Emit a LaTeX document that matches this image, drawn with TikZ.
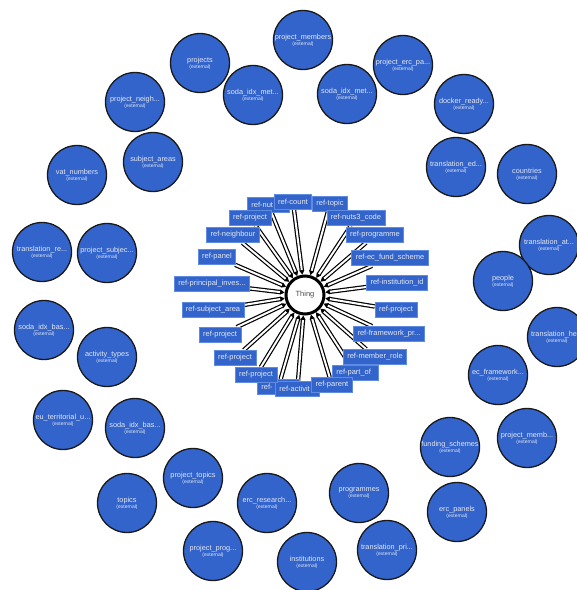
\documentclass[tikz,border=0pt]{standalone}
\usepackage{fontspec}
\setmainfont{Liberation Sans}
\usetikzlibrary{arrows.meta}
\pgfdeclarelayer{background}
\pgfsetlayers{background,main}
\definecolor{vblue}{RGB}{50,100,204}
\definecolor{vedge}{RGB}{95,140,225}
\definecolor{vtext}{RGB}{228,232,240}
\newcommand\extname[1]{#1\\[-2.2pt]{\fontsize{5}{5}\selectfont(external)}}
\tikzset{
  extcls/.style={circle, fill=vblue, draw=black!90, line width=1.3pt, minimum size=59pt, inner sep=0pt,
    align=center, text=vtext, font=\fontsize{7.3}{8}\selectfont},
  prop/.style={rectangle, fill=vblue, draw=vedge, line width=0.7pt, minimum height=15pt, inner xsep=4pt,
    inner ysep=0pt, text=vtext, font=\fontsize{7.5}{8}\selectfont},
  propw/.style={prop, anchor=west, text width=#1, align=left},
  thingnode/.style={circle, fill=white, draw=black, line width=3pt, minimum size=38pt, inner sep=0pt,
    text=black!70, font=\fontsize{7.5}{8}\selectfont},
  link/.style={draw=black, line width=1.2pt, double=white, double distance=2pt,
    -{Triangle[length=4.5pt,width=5pt,fill=black]}},
}
\begin{document}
\begin{tikzpicture}[x=1pt,y=-1pt]
\useasboundingbox (0,0) rectangle (577,590);
% central class
\node[thingnode] (thing) at (305,295) {Thing};
% property labels (drawn bottom to top)
\node[propw=34pt] (pnut) at (247,205) {ref-nut};
\node[prop] (pcount) at (293,202) {ref-count};
\node[prop] (ptopic) at (330,204) {ref-topic};
\node[prop] (pnuts3) at (356,218) {ref-nuts3\_code};
\node[prop] (pprog) at (375,235) {ref-programme};
\node[prop] (pfund) at (390,258) {ref-ec\_fund\_scheme};
\node[prop] (pinst) at (397,283) {ref-institution\_id};
\node[prop] (pproj1) at (396,310) {ref-project};
\node[prop] (pfw) at (389,334) {ref-framework\_pr...};
\node[propw=38pt] (ppart) at (332,373) {ref-part\_of};
\node[prop] (pmember) at (375,357) {ref-member\_role};
\node[propw=34pt] (phid) at (257,387) {ref-};
\node[propw=36pt] (pact) at (275,389) {ref-activit};
\node[prop] (pparent) at (332,385) {ref-parent};
\node[prop] (pproj2) at (256,375) {ref-project};
\node[prop] (pproj3) at (235,358) {ref-project};
\node[prop] (pproj4) at (220,335) {ref-project};
\node[prop] (psubj) at (213,310) {ref-subject\_area};
\node[prop] (ppi) at (212,284) {ref-principal\_inves...};
\node[prop] (ppanel) at (217,257) {ref-panel};
\node[prop] (pneigh) at (233,235) {ref-neighbour};
\node[prop] (pproj5) at (250,218) {ref-project};
% connectors, behind the labels
\begin{pgfonlayer}{background}
\foreach \p in {pnut,pcount,ptopic,pnuts3,pprog,pfund,pinst,pproj1,pfw,ppart,pmember,
  phid,pact,pparent,pproj2,pproj3,pproj4,psubj,ppi,ppanel,pneigh,pproj5}
  \draw[link] (\p) -- (thing);
\end{pgfonlayer}
% external classes
\node[extcls] (e1) at (200,63) {\extname{projects}};
\node[extcls] (e2) at (303,40) {\extname{project\_members}};
\node[extcls] (e3) at (403,65) {\extname{project\_erc\_pa...}};
\node[extcls] (e4) at (253,95) {\extname{soda\_idx\_met...}};
\node[extcls] (e5) at (347,94) {\extname{soda\_idx\_met...}};
\node[extcls] (e6) at (135,102) {\extname{project\_neigh...}};
\node[extcls] (e7) at (464,104) {\extname{docker\_ready...}};
\node[extcls] (e8) at (153,162) {\extname{subject\_areas}};
\node[extcls] (e9) at (77,175) {\extname{vat\_numbers}};
\node[extcls] (e10) at (456,167) {\extname{translation\_ed...}};
\node[extcls] (e11) at (527,174) {\extname{countries}};
\node[extcls] (e12) at (42,252) {\extname{translation\_re...}};
\node[extcls] (e13) at (107,253) {\extname{project\_subjec...}};
\node[extcls] (e14) at (549,245) {\extname{translation\_at...}};
\node[extcls] (e15) at (503,281) {\extname{people}};
\node[extcls] (e16) at (44,330) {\extname{soda\_idx\_bas...}};
\node[extcls] (e17) at (107,357) {\extname{activity\_types}};
\node[extcls] (e18) at (557,337) {\extname{translation\_he...}};
\node[extcls] (e19) at (498,375) {\extname{ec\_framework...}};
\node[extcls] (e20) at (63,420) {\extname{eu\_territorial\_u...}};
\node[extcls] (e21) at (135,428) {\extname{soda\_idx\_bas...}};
\node[extcls] (e22) at (527,438) {\extname{project\_memb...}};
\node[extcls] (e23) at (450,447) {\extname{funding\_schemes}};
\node[extcls] (e24) at (193,478) {\extname{project\_topics}};
\node[extcls] (e25) at (127,503) {\extname{topics}};
\node[extcls] (e26) at (267,503) {\extname{erc\_research...}};
\node[extcls] (e27) at (359,493) {\extname{programmes}};
\node[extcls] (e28) at (457,512) {\extname{erc\_panels}};
\node[extcls] (e29) at (213,551) {\extname{project\_prog...}};
\node[extcls] (e30) at (387,550) {\extname{translation\_pri...}};
\node[extcls] (e31) at (307,562) {\extname{institutions}};
\end{tikzpicture}
\end{document}
